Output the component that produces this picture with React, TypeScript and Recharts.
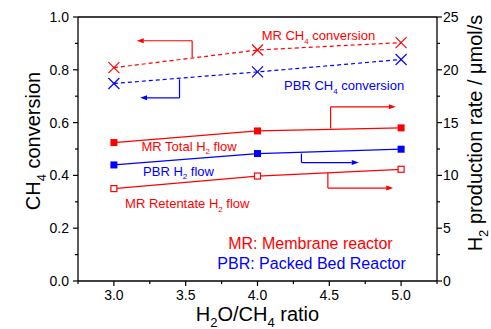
import React from 'react';
import {
  LineChart,
  Line,
  XAxis,
  YAxis,
  ReferenceLine,
  ReferenceDot,
} from 'recharts';

const FONT = '"Liberation Sans", Arial, sans-serif';
const RED = '#ff0000';
const BLUE = '#0000ff';

// H2O/CH4 feed ratio
const ratio = [3, 4, 5];
// CH4 conversion (left axis)
const mrCh4Conversion = [0.808, 0.875, 0.903];
const pbrCh4Conversion = [0.748, 0.792, 0.839];
// H2 production rate, umol/s (right axis)
const mrTotalH2 = [13.11, 14.21, 14.5];
const pbrH2 = [10.99, 12.07, 12.48];
const mrRetentateH2 = [8.75, 9.94, 10.58];

const xTicks = [2.75, 3, 3.25, 3.5, 3.75, 4, 4.25, 4.5, 4.75, 5, 5.25];
const xMajor = [3, 3.5, 4, 4.5, 5];
const leftTicks = [0, 0.1, 0.2, 0.3, 0.4, 0.5, 0.6, 0.7, 0.8, 0.9, 1];
const leftMajor = [0, 0.2, 0.4, 0.6, 0.8, 1];
const rightTicks = [0, 2.5, 5, 7.5, 10, 12.5, 15, 17.5, 20, 22.5, 25];
const rightMajor = [0, 5, 10, 15, 20, 25];

const data = ratio.map((r, i) => ({
  ratio: r,
  mrConv: mrCh4Conversion[i],
  pbrConv: pbrCh4Conversion[i],
  mrTotal: mrTotalH2[i],
  pbrH2: pbrH2[i],
  mrRet: mrRetentateH2[i],
}));

type Part = { t: string; sub?: boolean };

// arrow annotations: [x, y] corner points, last one gets the head
type Arrow = { axis: 'left' | 'right'; color: string; pts: [number, number][] };
const arrows: Arrow[] = [
  { axis: 'left', color: RED, pts: [[3.545, 0.847], [3.545, 0.91], [3.159, 0.91]] },
  { axis: 'left', color: BLUE, pts: [[3.457, 0.764], [3.457, 0.694], [3.182, 0.694]] },
  { axis: 'right', color: RED, pts: [[4.509, 14.44], [4.509, 16.49], [4.963, 16.49]] },
  { axis: 'right', color: BLUE, pts: [[4.306, 12.07], [4.306, 11.21], [4.705, 11.21]] },
  { axis: 'right', color: RED, pts: [[4.49, 10.23], [4.49, 8.8], [4.945, 8.8]] },
];

// text annotations placed in left-axis units
type Note = { x: number; y: number; color: string; size: number; parts: Part[] };
const notes: Note[] = [
  { x: 4.029, y: 0.932, color: RED, size: 13, parts: [{ t: 'MR CH' }, { t: '4', sub: true }, { t: ' conversion' }] },
  { x: 4.185, y: 0.742, color: BLUE, size: 13, parts: [{ t: 'PBR CH' }, { t: '4', sub: true }, { t: ' conversion' }] },
  { x: 3.192, y: 0.512, color: RED, size: 13, parts: [{ t: 'MR Total H' }, { t: '2', sub: true }, { t: ' flow' }] },
  { x: 3.203, y: 0.417, color: BLUE, size: 13, parts: [{ t: 'PBR H' }, { t: '2', sub: true }, { t: ' flow' }] },
  { x: 3.078, y: 0.293, color: RED, size: 13, parts: [{ t: 'MR Retentate H' }, { t: '2', sub: true }, { t: ' flow' }] },
  { x: 3.796, y: 0.142, color: RED, size: 16, parts: [{ t: 'MR: Membrane reactor' }] },
  { x: 3.72, y: 0.066, color: BLUE, size: 16, parts: [{ t: 'PBR: Packed Bed Reactor' }] },
];

function RichText({ x, y, parts, size, fill, anchor = 'start', angle = 0 }: any) {
  const sub = Math.round(size * 0.65);
  const shift = size * 0.3;
  let level = 0;
  return (
    <text
      x={x}
      y={y}
      fontSize={size}
      fill={fill}
      fontFamily={FONT}
      textAnchor={anchor}
      transform={angle ? `rotate(${angle} ${x} ${y})` : undefined}
    >
      {parts.map((p: Part, i: number) => {
        const target = p.sub ? shift : 0;
        const dy = target - level;
        level = target;
        return (
          <tspan key={i} dy={dy} fontSize={p.sub ? sub : size}>
            {p.t}
          </tspan>
        );
      })}
    </text>
  );
}

const isMajor = (list: number[], v: number) => list.some((m) => Math.abs(m - v) < 1e-6);

const XTick = ({ x, y, payload }: any) => {
  const major = isMajor(xMajor, payload.value);
  return (
    <g>
      <line x1={x} y1={y} x2={x} y2={y + (major ? 5 : 3)} stroke="#000" strokeWidth={1.2} />
      {major && (
        <text x={x} y={y + 19} textAnchor="middle" fontSize={14} fontFamily={FONT} fill="#000">
          {payload.value.toFixed(1)}
        </text>
      )}
    </g>
  );
};

const LeftTick = ({ x, y, payload }: any) => {
  const major = isMajor(leftMajor, payload.value);
  return (
    <g>
      <line x1={x} y1={y} x2={x - (major ? 5 : 3)} y2={y} stroke="#000" strokeWidth={1.2} />
      {major && (
        <text x={x - 9} y={y} dy="0.36em" textAnchor="end" fontSize={14} fontFamily={FONT} fill="#000">
          {payload.value.toFixed(1)}
        </text>
      )}
    </g>
  );
};

const RightTick = ({ x, y, payload }: any) => {
  const major = isMajor(rightMajor, payload.value);
  return (
    <g>
      <line x1={x} y1={y} x2={x + (major ? 5 : 3)} y2={y} stroke="#000" strokeWidth={1.2} />
      {major && (
        <text x={x + 6} y={y} dy="0.36em" textAnchor="start" fontSize={14} fontFamily={FONT} fill="#000">
          {payload.value}
        </text>
      )}
    </g>
  );
};

const Cross = (color: string) => (p: any) => {
  const { cx, cy, index } = p;
  const s = 5.5;
  return (
    <g key={`x-${index}`}>
      <line x1={cx - s} y1={cy - s} x2={cx + s} y2={cy + s} stroke={color} strokeWidth={1.2} />
      <line x1={cx - s} y1={cy + s} x2={cx + s} y2={cy - s} stroke={color} strokeWidth={1.2} />
    </g>
  );
};

const Square = (color: string, hollow: boolean) => (p: any) => {
  const { cx, cy, index } = p;
  const s = hollow ? 6 : 7;
  return (
    <rect
      key={`sq-${index}`}
      x={cx - s / 2}
      y={cy - s / 2}
      width={s}
      height={s}
      fill={hollow ? '#fff' : color}
      stroke={color}
      strokeWidth={hollow ? 1.2 : 0}
    />
  );
};

const segmentShape = (color: string, head: boolean) => (p: any) => {
  const { x1, y1, x2, y2 } = p;
  const dx = x2 - x1;
  const dy = y2 - y1;
  const len = Math.hypot(dx, dy) || 1;
  const ux = dx / len;
  const uy = dy / len;
  const hl = 7;
  const hw = 2.5;
  const bx = x2 - ux * hl;
  const by = y2 - uy * hl;
  return (
    <g>
      <line x1={x1} y1={y1} x2={head ? bx : x2} y2={head ? by : y2} stroke={color} strokeWidth={1.2} />
      {head && (
        <polygon
          points={`${x2},${y2} ${bx - uy * hw},${by + ux * hw} ${bx + uy * hw},${by - ux * hw}`}
          fill={color}
        />
      )}
    </g>
  );
};

export default function App() {
  return (
    <div style={{ position: 'absolute', left: 0, top: 0, width: 491, height: 329, background: '#fff' }}>
      <LineChart width={491} height={329} data={data} margin={{ top: 17, right: 0, bottom: 0, left: 0 }}>
        <XAxis
          dataKey="ratio"
          type="number"
          domain={[2.75, 5.25]}
          ticks={xTicks}
          interval={0}
          allowDataOverflow
          height={48}
          tickSize={0}
          tickMargin={0}
          tick={<XTick />}
          axisLine={{ stroke: '#000', strokeWidth: 1.3 }}
          label={(p: any) => (
            <RichText
              x={p.viewBox.x + p.viewBox.width / 2}
              y={p.viewBox.y + 40}
              anchor="middle"
              size={20}
              fill="#000"
              parts={[{ t: 'H' }, { t: '2', sub: true }, { t: 'O/CH' }, { t: '4', sub: true }, { t: ' ratio' }]}
            />
          )}
        />
        <YAxis
          yAxisId="left"
          orientation="left"
          width={78}
          domain={[0, 1]}
          ticks={leftTicks}
          interval={0}
          allowDataOverflow
          tickSize={0}
          tickMargin={0}
          tick={<LeftTick />}
          axisLine={{ stroke: '#000', strokeWidth: 1.3 }}
          label={() => (
            <RichText
              x={40}
              y={141}
              angle={-90}
              anchor="middle"
              size={20}
              fill="#000"
              parts={[{ t: 'CH' }, { t: '4', sub: true }, { t: ' conversion' }]}
            />
          )}
        />
        <YAxis
          yAxisId="right"
          orientation="right"
          width={54}
          domain={[0, 25]}
          ticks={rightTicks}
          interval={0}
          allowDataOverflow
          tickSize={0}
          tickMargin={0}
          tick={<RightTick />}
          axisLine={{ stroke: '#000', strokeWidth: 1.3 }}
          label={() => (
            <RichText
              x={482}
              y={133}
              angle={-90}
              anchor="middle"
              size={20}
              fill="#000"
              parts={[{ t: 'H' }, { t: '2', sub: true }, { t: ' production rate / \u03bcmol/s' }]}
            />
          )}
        />
        <ReferenceLine yAxisId="left" y={1} stroke="#000" strokeWidth={1.3} />

        <Line yAxisId="left" dataKey="mrConv" stroke={RED} strokeWidth={1.2} strokeDasharray="4 3" dot={Cross(RED)} isAnimationActive={false} />
        <Line yAxisId="left" dataKey="pbrConv" stroke={BLUE} strokeWidth={1.2} strokeDasharray="4 3" dot={Cross(BLUE)} isAnimationActive={false} />
        <Line yAxisId="right" dataKey="mrTotal" stroke={RED} strokeWidth={1.3} dot={Square(RED, false)} isAnimationActive={false} />
        <Line yAxisId="right" dataKey="pbrH2" stroke={BLUE} strokeWidth={1.3} dot={Square(BLUE, false)} isAnimationActive={false} />
        <Line yAxisId="right" dataKey="mrRet" stroke={RED} strokeWidth={1.3} dot={Square(RED, true)} isAnimationActive={false} />

        {arrows.flatMap((a, ai) =>
          a.pts.slice(1).map((pt, si) => (
            <ReferenceLine
              key={`arrow-${ai}-${si}`}
              yAxisId={a.axis}
              segment={[
                { x: a.pts[si][0], y: a.pts[si][1] },
                { x: pt[0], y: pt[1] },
              ]}
              shape={segmentShape(a.color, si === a.pts.length - 2)}
            />
          ))
        )}

        {notes.map((n, i) => (
          <ReferenceDot
            key={`note-${i}`}
            yAxisId="left"
            x={n.x}
            y={n.y}
            r={0}
            shape={(p: any) => (
              <RichText x={p.cx} y={p.cy + n.size * 0.36} parts={n.parts} size={n.size} fill={n.color} />
            )}
          />
        ))}
      </LineChart>
    </div>
  );
}
